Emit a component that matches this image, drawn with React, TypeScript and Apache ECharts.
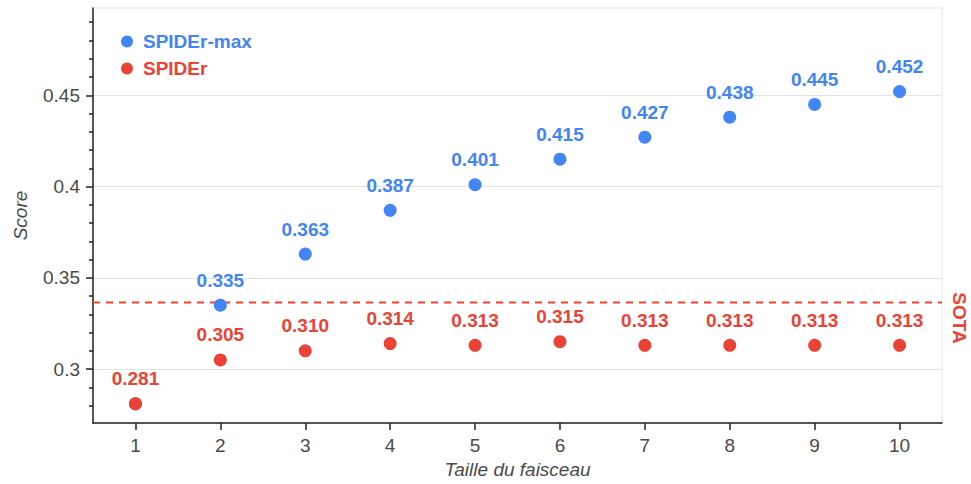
import React, { useEffect, useRef } from "react";
import * as echarts from "echarts";

const beamSizes = [1, 2, 3, 4, 5, 6, 7, 8, 9, 10];
const spiderMax = [0.281, 0.335, 0.363, 0.387, 0.401, 0.415, 0.427, 0.438, 0.445, 0.452];
const spider = [0.281, 0.305, 0.31, 0.314, 0.313, 0.315, 0.313, 0.313, 0.313, 0.313];
const sotaValue = 0.3365;
const yMajorTicks = [0.3, 0.35, 0.4, 0.45];
const yMinorTicks = [
  0.28, 0.29, 0.31, 0.32, 0.33, 0.34, 0.36, 0.37, 0.38, 0.39, 0.41, 0.42, 0.43, 0.44, 0.46,
  0.47, 0.48, 0.49,
];

const BLUE = "#4285F4";
const RED = "#EA4335";
const FONT = "'Liberation Sans', Arial, Helvetica, sans-serif";
const X_MIN = 0.5;
const X_MAX = 10.5;
const Y_MIN = 0.2704;
const Y_MAX = 0.4978;

export default function App() {
  const ref = useRef<HTMLDivElement>(null);
  useEffect(() => {
    if (!ref.current) return;
    const chart = echarts.init(ref.current, undefined, { renderer: "svg" });
    const labelCfg = (color: string) => ({
      show: true,
      position: "top",
      distance: 9,
      color,
      fontSize: 19,
      fontWeight: "bold",
      fontFamily: FONT,
      formatter: (p: any) => Number(p.value[1]).toFixed(3),
    });
    chart.setOption({
      animation: false,
      backgroundColor: "#ffffff",
      grid: {
        left: 93,
        right: 29,
        top: 8,
        bottom: 60,
        show: true,
        borderColor: "#e3e3e3",
        borderWidth: 1,
        backgroundColor: "transparent",
      },
      legend: {
        orient: "vertical",
        left: 121,
        top: 32,
        padding: 0,
        itemGap: 8,
        itemWidth: 12,
        itemHeight: 12,
        icon: "circle",
        selectedMode: false,
        data: [
          { name: "SPIDEr-max", textStyle: { color: BLUE } },
          { name: "SPIDEr", textStyle: { color: RED } },
        ],
        textStyle: {
          fontSize: 19,
          fontWeight: "bold",
          fontFamily: FONT,
          padding: [0, 0, 0, 5],
        },
      },
      xAxis: {
        type: "value",
        min: X_MIN,
        max: X_MAX,
        name: "Taille du faisceau",
        nameLocation: "middle",
        nameGap: 36,
        nameTextStyle: { fontSize: 19, fontStyle: "italic", color: "#4a4a4a", fontFamily: FONT },
        axisLine: { show: true, onZero: false, lineStyle: { color: "#222", width: 1.5 } },
        axisTick: { show: true, length: 7, customValues: beamSizes, lineStyle: { color: "#222", width: 1.5 } },
        axisLabel: { customValues: beamSizes, fontSize: 19, color: "#4a4a4a", margin: 13, fontFamily: FONT },
        splitLine: { show: false },
      },
      yAxis: [
        {
          type: "value",
          min: Y_MIN,
          max: Y_MAX,
          position: "left",
          name: "Score",
          nameLocation: "middle",
          nameGap: 63,
          nameRotate: 90,
          nameTextStyle: { fontSize: 19, fontStyle: "italic", color: "#4a4a4a", fontFamily: FONT },
          axisLine: { show: true, onZero: false, lineStyle: { color: "#222", width: 1.5 } },
          axisTick: { show: true, length: 7, customValues: yMajorTicks, lineStyle: { color: "#222", width: 1.5 } },
          axisLabel: {
            customValues: yMajorTicks,
            fontSize: 19,
            color: "#4a4a4a",
            margin: 13,
            fontFamily: FONT,
            formatter: (v: number) => String(Number(v.toFixed(3))),
          },
          splitLine: { show: true, lineStyle: { color: "#e3e3e3", width: 1 } },
        },
        {
          type: "value",
          min: Y_MIN,
          max: Y_MAX,
          position: "left",
          axisLine: { show: false },
          axisTick: { show: true, length: 4, customValues: yMinorTicks, lineStyle: { color: "#222", width: 1.5 } },
          axisLabel: { show: false },
          splitLine: { show: false },
        },
      ],
      series: [
        {
          name: "SOTA",
          type: "line",
          silent: true,
          symbol: "none",
          lineStyle: { color: RED, type: [7, 6], width: 2 },
          data: [
            [X_MIN, sotaValue],
            [X_MAX, sotaValue],
          ],
          z: 1,
        },
        {
          name: "SPIDEr-max",
          type: "scatter",
          symbolSize: 13,
          itemStyle: { color: BLUE, opacity: 1 },
          label: labelCfg(BLUE),
          data: beamSizes.map((x, i) =>
            i === 0 ? { value: [x, spiderMax[i]], label: { show: false } } : { value: [x, spiderMax[i]] }
          ),
          z: 2,
        },
        {
          name: "SPIDEr",
          type: "scatter",
          symbolSize: 13,
          itemStyle: { color: RED, opacity: 1 },
          label: labelCfg(RED),
          data: beamSizes.map((x, i) => [x, spider[i]]),
          z: 3,
        },
      ],
      graphic: [
        {
          type: "text",
          x: 959,
          y: 318,
          rotation: -Math.PI / 2,
          style: {
            text: "SOTA",
            fill: RED,
            fontSize: 19,
            fontWeight: "bold",
            fontFamily: FONT,
            align: "center",
            verticalAlign: "middle",
          },
        },
      ],
    });
    return () => chart.dispose();
  }, []);
  return (
    <div
      ref={ref}
      style={{ position: "absolute", left: 0, top: 0, width: 971, height: 484 }}
    />
  );
}
